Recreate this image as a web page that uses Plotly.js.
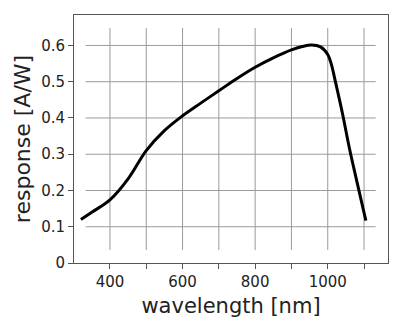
<!DOCTYPE html>
<html>
<head>
<meta charset="utf-8">
<script src="https://cdn.plot.ly/plotly-3.0.1.min.js"></script>
<style>html,body{margin:0;padding:0;background:#fff;}#chart{width:400px;height:324px;}</style>
</head>
<body>
<div id="chart"></div>
<script>
const wavelength = [320, 350, 400, 450, 500, 550, 600, 650, 700, 750, 800, 850, 900, 930, 955, 980, 1000, 1010, 1020, 1040, 1060, 1080, 1105];
const response = [0.12, 0.14, 0.174, 0.232, 0.31, 0.365, 0.406, 0.441, 0.475, 0.509, 0.54, 0.566, 0.588, 0.597, 0.601, 0.596, 0.575, 0.548, 0.505, 0.415, 0.315, 0.226, 0.117];
const xTicks = [400, 500, 600, 700, 800, 900, 1000, 1100];
const xTickText = ['400', '', '600', '', '800', '', '1000', ''];
const yTicks = [0, 0.1, 0.2, 0.3, 0.4, 0.5, 0.6];
const yTickText = ['0', '0.1', '0.2', '0.3', '0.4', '0.5', '0.6'];
const xRange = [301, 1166];
const yRange = [0, 0.684];

const gridColor = '#9a9a9a';
const shapes = [];
xTicks.forEach(v => shapes.push({type: 'line', layer: 'below', xref: 'x', yref: 'y', x0: v, x1: v, y0: 0.036, y1: 0.648, line: {color: gridColor, width: 1}}));
yTicks.filter(v => v > 0).forEach(v => shapes.push({type: 'line', layer: 'below', xref: 'x', yref: 'y', x0: 333, x1: 1132, y0: v, y1: v, line: {color: gridColor, width: 1}}));

const trace = {
  x: wavelength, y: response, type: 'scatter', mode: 'lines',
  line: {color: '#000', width: 3, shape: 'spline', smoothing: 1},
  hoverinfo: 'skip'
};

const layout = {
  width: 400, height: 324,
  margin: {l: 74, r: 12, t: 15, b: 61},
  paper_bgcolor: '#fff', plot_bgcolor: '#fff',
  showlegend: false,
  font: {family: 'DejaVu Sans', color: '#222'},
  xaxis: {
    range: xRange, tickmode: 'array', tickvals: xTicks, ticktext: xTickText,
    showgrid: false, zeroline: false, showline: true, mirror: true,
    linecolor: '#555', linewidth: 1, ticks: 'outside', ticklen: 5, tickcolor: '#555',
    tickfont: {family: 'DejaVu Sans', size: 15, color: '#222'},
    title: {text: 'wavelength [nm]', font: {family: 'DejaVu Sans', size: 21, color: '#222'}, standoff: 8},
    automargin: false
  },
  yaxis: {
    range: yRange, tickmode: 'array', tickvals: yTicks, ticktext: yTickText,
    showgrid: false, zeroline: false, showline: true, mirror: true,
    linecolor: '#555', linewidth: 1, ticks: 'outside', ticklen: 5, tickcolor: '#555',
    tickfont: {family: 'DejaVu Sans', size: 15, color: '#222'},
    title: {text: 'response [A/W]', font: {family: 'DejaVu Sans', size: 22, color: '#222'}, standoff: 4},
    automargin: false
  },
  shapes: shapes
};

Plotly.newPlot('chart', [trace], layout, {displayModeBar: false, staticPlot: true});
</script>
</body>
</html>
